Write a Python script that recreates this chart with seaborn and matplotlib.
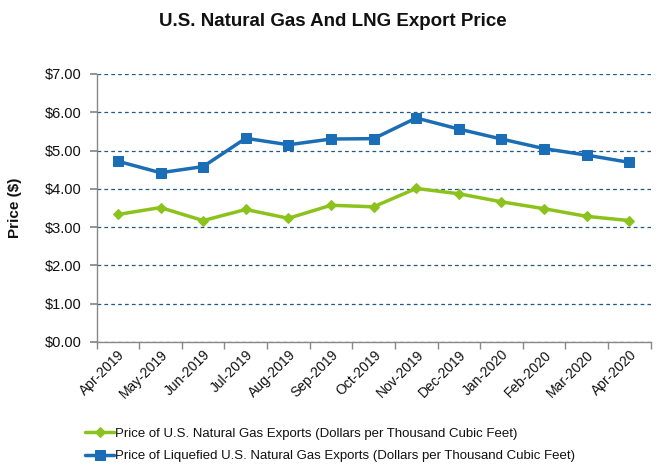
import matplotlib
matplotlib.use("Agg")
import matplotlib.pyplot as plt
import seaborn as sns
import pandas as pd
import numpy as np

months = ["Apr-2019", "May-2019", "Jun-2019", "Jul-2019", "Aug-2019", "Sep-2019",
          "Oct-2019", "Nov-2019", "Dec-2019", "Jan-2020", "Feb-2020", "Mar-2020", "Apr-2020"]
ng_exports = [3.33, 3.51, 3.17, 3.46, 3.23, 3.57, 3.53, 4.01, 3.87, 3.66, 3.48, 3.28, 3.17]
lng_exports = [4.72, 4.42, 4.58, 5.32, 5.15, 5.30, 5.31, 5.85, 5.56, 5.30, 5.05, 4.88, 4.69]
ng_label = "Price of U.S. Natural Gas Exports (Dollars per Thousand Cubic Feet)"
lng_label = "Price of Liquefied U.S. Natural Gas Exports (Dollars per Thousand Cubic Feet)"
yticks = [0, 1, 2, 3, 4, 5, 6, 7]

sns.set_theme(style="white")
plt.rcParams['font.family'] = ['Liberation Sans', 'DejaVu Sans']

fig = plt.figure(figsize=(6.66, 4.71), dpi=100)
ax = fig.add_axes([0.145, 0.274, 0.832, 0.569])

x = np.arange(len(months))
green = "#8CC21C"
blue = "#1B6EB5"
sns.lineplot(x=x, y=ng_exports, ax=ax, color=green, linewidth=2.5, marker="D",
             markersize=5.5, markeredgecolor=green, label=ng_label, sort=False)
sns.lineplot(x=x, y=lng_exports, ax=ax, color=blue, linewidth=2.5, marker="s",
             markersize=7, markeredgecolor=blue, label=lng_label, sort=False)

ax.set_xlim(-0.5, len(months) - 0.5)
ax.set_ylim(0, 7)
ax.set_yticks(yticks)
ax.set_yticklabels([f"${v:.2f}" for v in yticks], fontsize=10.5, color="#111111")
ax.yaxis.grid(True, linestyle=(0, (3, 2.5)), color="#1F5A8A", linewidth=0.9)
ax.xaxis.grid(False)
ax.set_axisbelow(True)

# category labels at centers, tick marks at boundaries
ax.set_xticks(x)
ax.set_xticklabels(months, rotation=45, ha="right", rotation_mode="anchor", fontsize=10, color="#111111")
ax.tick_params(axis="x", which="major", length=0, pad=4)
ax.set_xticks(np.arange(-0.5, len(months), 1), minor=True)
ax.tick_params(axis="x", which="minor", length=5, color="#888888", direction="out", bottom=True)
ax.tick_params(axis="y", length=5, color="#888888", direction="out", left=True, pad=6)

for s in ["top", "right"]:
    ax.spines[s].set_visible(False)
for s in ["left", "bottom"]:
    ax.spines[s].set_color("#888888")
    ax.spines[s].set_linewidth(1)

ax.set_ylabel("Price ($)", fontsize=11, fontweight="bold", labelpad=16, color="#111111")
ax.set_xlabel("")
fig.suptitle("U.S. Natural Gas And LNG Export Price", fontsize=13.5, fontweight="bold",
             x=0.5, y=0.972, color="#111111")

ax.get_legend().remove()
h, l = ax.get_legend_handles_labels()
fig.legend(h, l, loc="upper left", bbox_to_anchor=(0.12, 0.103), frameon=False,
           fontsize=9.5, handlelength=2.2, handletextpad=0.05, labelspacing=0.75,
           borderaxespad=0, labelcolor="#111111")

fig.savefig("out.png", dpi=100)
